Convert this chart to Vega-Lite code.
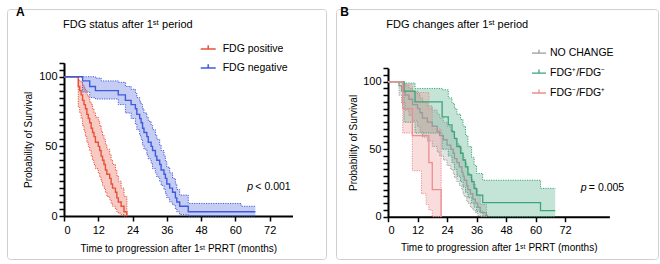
{
  "$schema": "https://vega.github.io/schema/vega-lite/v6.json",
  "background": "white",
  "padding": {"left": 6, "top": 5, "right": 5, "bottom": 9},
  "spacing": 8,
  "datasets": {
    "A": [
      {"g":"FDG positive","t":0,"s":100,"lo":100,"hi":100},
      {"g":"FDG positive","t":5,"s":93,"lo":78,"hi":98},
      {"g":"FDG positive","t":5.5,"s":90,"lo":74,"hi":97},
      {"g":"FDG positive","t":6,"s":87,"lo":70,"hi":96},
      {"g":"FDG positive","t":6.5,"s":83,"lo":65,"hi":94},
      {"g":"FDG positive","t":7,"s":80,"lo":61,"hi":92},
      {"g":"FDG positive","t":7.5,"s":77,"lo":57,"hi":90},
      {"g":"FDG positive","t":8,"s":73,"lo":53,"hi":87},
      {"g":"FDG positive","t":8.5,"s":70,"lo":50,"hi":85},
      {"g":"FDG positive","t":9,"s":67,"lo":47,"hi":82},
      {"g":"FDG positive","t":9.5,"s":63,"lo":43,"hi":80},
      {"g":"FDG positive","t":10,"s":60,"lo":40,"hi":77},
      {"g":"FDG positive","t":10.5,"s":57,"lo":37,"hi":74},
      {"g":"FDG positive","t":11,"s":53,"lo":34,"hi":71},
      {"g":"FDG positive","t":12,"s":50,"lo":31,"hi":68},
      {"g":"FDG positive","t":12.5,"s":47,"lo":28,"hi":65},
      {"g":"FDG positive","t":13,"s":43,"lo":25,"hi":61},
      {"g":"FDG positive","t":13.5,"s":40,"lo":22,"hi":58},
      {"g":"FDG positive","t":14,"s":37,"lo":20,"hi":55},
      {"g":"FDG positive","t":14.5,"s":33,"lo":17,"hi":51},
      {"g":"FDG positive","t":15,"s":30,"lo":14,"hi":48},
      {"g":"FDG positive","t":16,"s":27,"lo":12,"hi":44},
      {"g":"FDG positive","t":16.5,"s":23,"lo":9,"hi":40},
      {"g":"FDG positive","t":17,"s":20,"lo":7,"hi":37},
      {"g":"FDG positive","t":18,"s":17,"lo":5,"hi":33},
      {"g":"FDG positive","t":18.5,"s":13,"lo":3,"hi":29},
      {"g":"FDG positive","t":19,"s":10,"lo":2,"hi":25},
      {"g":"FDG positive","t":20,"s":7,"lo":1,"hi":20},
      {"g":"FDG positive","t":21,"s":3,"lo":0,"hi":14},
      {"g":"FDG positive","t":22,"s":0,"lo":0,"hi":0},
      {"g":"FDG negative","t":0,"s":100,"lo":100,"hi":100},
      {"g":"FDG negative","t":6.5,"s":97,"lo":89,"hi":100},
      {"g":"FDG negative","t":9,"s":93,"lo":85,"hi":100},
      {"g":"FDG negative","t":11,"s":90,"lo":84,"hi":99},
      {"g":"FDG negative","t":13,"s":90,"lo":84,"hi":97},
      {"g":"FDG negative","t":19,"s":87,"lo":80,"hi":96},
      {"g":"FDG negative","t":21.5,"s":83,"lo":74,"hi":93},
      {"g":"FDG negative","t":23.5,"s":80,"lo":70,"hi":91},
      {"g":"FDG negative","t":25,"s":77,"lo":66,"hi":88},
      {"g":"FDG negative","t":25.5,"s":73,"lo":62,"hi":85},
      {"g":"FDG negative","t":26.5,"s":70,"lo":58,"hi":82},
      {"g":"FDG negative","t":27,"s":67,"lo":55,"hi":80},
      {"g":"FDG negative","t":27.5,"s":63,"lo":51,"hi":77},
      {"g":"FDG negative","t":28,"s":60,"lo":48,"hi":74},
      {"g":"FDG negative","t":29,"s":57,"lo":44,"hi":71},
      {"g":"FDG negative","t":29.5,"s":53,"lo":41,"hi":68},
      {"g":"FDG negative","t":30.5,"s":50,"lo":38,"hi":65},
      {"g":"FDG negative","t":31,"s":47,"lo":34,"hi":62},
      {"g":"FDG negative","t":32,"s":43,"lo":31,"hi":58},
      {"g":"FDG negative","t":32.5,"s":40,"lo":28,"hi":55},
      {"g":"FDG negative","t":33.5,"s":37,"lo":25,"hi":51},
      {"g":"FDG negative","t":34,"s":33,"lo":22,"hi":47},
      {"g":"FDG negative","t":35,"s":30,"lo":19,"hi":43},
      {"g":"FDG negative","t":35.5,"s":27,"lo":16,"hi":39},
      {"g":"FDG negative","t":36,"s":23,"lo":13,"hi":35},
      {"g":"FDG negative","t":37,"s":20,"lo":10,"hi":31},
      {"g":"FDG negative","t":38,"s":17,"lo":8,"hi":27},
      {"g":"FDG negative","t":39,"s":13,"lo":5,"hi":23},
      {"g":"FDG negative","t":39.5,"s":10,"lo":3,"hi":19},
      {"g":"FDG negative","t":40.5,"s":7,"lo":1,"hi":15},
      {"g":"FDG negative","t":43.5,"s":3,"lo":0,"hi":9},
      {"g":"FDG negative","t":62,"s":3,"lo":0,"hi":7},
      {"g":"FDG negative","t":67,"s":3,"lo":0,"hi":7}
    ],
    "B": [
      {"g":"NO CHANGE","t":0,"s":100,"lo":100,"hi":100},
      {"g":"NO CHANGE","t":4.5,"s":97,"lo":90,"hi":100},
      {"g":"NO CHANGE","t":5.5,"s":93,"lo":84,"hi":99},
      {"g":"NO CHANGE","t":7,"s":90,"lo":79,"hi":97},
      {"g":"NO CHANGE","t":8.5,"s":87,"lo":75,"hi":95},
      {"g":"NO CHANGE","t":10,"s":83,"lo":71,"hi":93},
      {"g":"NO CHANGE","t":12,"s":80,"lo":67,"hi":91},
      {"g":"NO CHANGE","t":13,"s":77,"lo":63,"hi":88},
      {"g":"NO CHANGE","t":14,"s":73,"lo":59,"hi":85},
      {"g":"NO CHANGE","t":16,"s":70,"lo":56,"hi":82},
      {"g":"NO CHANGE","t":18,"s":67,"lo":52,"hi":79},
      {"g":"NO CHANGE","t":20,"s":63,"lo":48,"hi":76},
      {"g":"NO CHANGE","t":21,"s":60,"lo":45,"hi":73},
      {"g":"NO CHANGE","t":22.5,"s":57,"lo":42,"hi":70},
      {"g":"NO CHANGE","t":24,"s":53,"lo":38,"hi":67},
      {"g":"NO CHANGE","t":25.5,"s":50,"lo":35,"hi":64},
      {"g":"NO CHANGE","t":26.5,"s":47,"lo":32,"hi":61},
      {"g":"NO CHANGE","t":27,"s":43,"lo":29,"hi":57},
      {"g":"NO CHANGE","t":28,"s":40,"lo":26,"hi":54},
      {"g":"NO CHANGE","t":29,"s":37,"lo":23,"hi":51},
      {"g":"NO CHANGE","t":30,"s":33,"lo":20,"hi":47},
      {"g":"NO CHANGE","t":30.5,"s":30,"lo":17,"hi":44},
      {"g":"NO CHANGE","t":31,"s":27,"lo":15,"hi":40},
      {"g":"NO CHANGE","t":32,"s":23,"lo":12,"hi":36},
      {"g":"NO CHANGE","t":32.5,"s":20,"lo":10,"hi":32},
      {"g":"NO CHANGE","t":33.5,"s":17,"lo":7,"hi":28},
      {"g":"NO CHANGE","t":34.5,"s":13,"lo":5,"hi":24},
      {"g":"NO CHANGE","t":35.5,"s":10,"lo":3,"hi":20},
      {"g":"NO CHANGE","t":36.5,"s":7,"lo":1,"hi":16},
      {"g":"NO CHANGE","t":37.5,"s":3,"lo":0,"hi":9},
      {"g":"NO CHANGE","t":40,"s":0,"lo":0,"hi":0},
      {"g":"FDG⁺/FDG⁻","t":0,"s":100,"lo":100,"hi":100},
      {"g":"FDG⁺/FDG⁻","t":6.5,"s":93,"lo":70,"hi":99},
      {"g":"FDG⁺/FDG⁻","t":11,"s":85,"lo":62,"hi":95},
      {"g":"FDG⁺/FDG⁻","t":22,"s":74,"lo":50,"hi":94},
      {"g":"FDG⁺/FDG⁻","t":24.5,"s":68,"lo":45,"hi":88},
      {"g":"FDG⁺/FDG⁻","t":26,"s":63,"lo":40,"hi":84},
      {"g":"FDG⁺/FDG⁻","t":27,"s":58,"lo":35,"hi":80},
      {"g":"FDG⁺/FDG⁻","t":28,"s":52,"lo":30,"hi":76},
      {"g":"FDG⁺/FDG⁻","t":29.5,"s":47,"lo":26,"hi":72},
      {"g":"FDG⁺/FDG⁻","t":30.5,"s":42,"lo":22,"hi":67},
      {"g":"FDG⁺/FDG⁻","t":31.5,"s":37,"lo":18,"hi":60},
      {"g":"FDG⁺/FDG⁻","t":32.5,"s":31,"lo":14,"hi":52},
      {"g":"FDG⁺/FDG⁻","t":34,"s":26,"lo":10,"hi":44},
      {"g":"FDG⁺/FDG⁻","t":35,"s":21,"lo":7,"hi":38},
      {"g":"FDG⁺/FDG⁻","t":36,"s":16,"lo":4,"hi":32},
      {"g":"FDG⁺/FDG⁻","t":38.5,"s":10.5,"lo":1,"hi":27},
      {"g":"FDG⁺/FDG⁻","t":41,"s":10.5,"lo":0,"hi":27},
      {"g":"FDG⁺/FDG⁻","t":62,"s":4.5,"lo":0,"hi":21},
      {"g":"FDG⁺/FDG⁻","t":68,"s":4.5,"lo":0,"hi":21},
      {"g":"FDG⁻/FDG⁺","t":0,"s":100,"lo":100,"hi":100},
      {"g":"FDG⁻/FDG⁺","t":6,"s":80,"lo":62,"hi":98},
      {"g":"FDG⁻/FDG⁺","t":9.9,"s":60,"lo":34,"hi":92},
      {"g":"FDG⁻/FDG⁺","t":13.6,"s":60,"lo":17,"hi":92},
      {"g":"FDG⁻/FDG⁺","t":15.5,"s":60,"lo":9,"hi":92},
      {"g":"FDG⁻/FDG⁺","t":16.6,"s":40,"lo":5,"hi":80},
      {"g":"FDG⁻/FDG⁺","t":18,"s":20,"lo":0,"hi":65},
      {"g":"FDG⁻/FDG⁺","t":21.6,"s":0,"lo":0,"hi":0}
    ]
  },
  "hconcat": [
    {
      "width": 319,
      "height": 250,
      "title": {"text": "A", "anchor": "start", "frame": "group", "dx": 9, "offset": -19, "fontSize": 12, "fontWeight": "bold", "baseline": "alphabetic", "color": "#000"},
      "resolve": {"axis": {"x": "independent", "y": "independent"}, "legend": {"color": "independent"}},
      "layer": [
        {
          "data": {"name": "A"},
          "mark": {"type": "area", "interpolate": "step-after", "fillOpacity": 0.3},
          "encoding": {
            "x": {"field": "t", "type": "quantitative", "scale": {"domain": [0, 80], "range": [57, 285.5]},
              "axis": {"orient": "bottom", "values": [0, 12, 24, 36, 48, 60, 72], "offset": -43, "labelPadding": 3, "title": "Time to progression after 1ˢᵗ PRRT (months)", "titleX": 171.25, "titleY": 35.7, "titleBaseline": "alphabetic", "titleAlign": "center"}},
            "y": {"field": "lo", "type": "quantitative", "scale": {"domain": [0, 110], "range": [207, 53.8]},
              "axis": {"orient": "left", "values": [0,5,10,15,20,25,30,35,40,45,50,55,60,65,70,75,80,85,90,95,100,105,110], "offset": -57, "labelExpr": "datum.value % 50 === 0 ? datum.label : ''", "labelOverlap": false, "title": "Probability of Survival", "titleX": -32.5, "titleY": 130.4, "titleAngle": 270, "titleBaseline": "alphabetic", "titleAlign": "center"}},
            "y2": {"field": "hi"},
            "color": {"field": "g", "type": "nominal", "scale": {"domain": ["FDG positive", "FDG negative"], "range": ["#E8503A", "#3F5BD9"]}, "legend": null}
          }
        },
        {
          "data": {"name": "A"},
          "mark": {"type": "line", "interpolate": "step-after", "strokeWidth": 1, "strokeDash": [1.2, 1.2]},
          "encoding": {
            "x": {"field": "t", "type": "quantitative", "axis": null},
            "y": {"field": "lo", "type": "quantitative", "axis": null},
            "color": {"field": "g", "type": "nominal", "legend": null}
          }
        },
        {
          "data": {"name": "A"},
          "mark": {"type": "line", "interpolate": "step-after", "strokeWidth": 1, "strokeDash": [1.2, 1.2]},
          "encoding": {
            "x": {"field": "t", "type": "quantitative", "axis": null},
            "y": {"field": "hi", "type": "quantitative", "axis": null},
            "color": {"field": "g", "type": "nominal", "legend": null}
          }
        },
        {
          "data": {"name": "A"},
          "mark": {"type": "line", "interpolate": "step-after", "strokeWidth": 1.4},
          "encoding": {
            "x": {"field": "t", "type": "quantitative", "axis": null},
            "y": {"field": "s", "type": "quantitative", "axis": null},
            "color": {"field": "g", "type": "nominal",
              "legend": {"orient": "none", "legendX": 192.7, "legendY": 31.5, "title": null, "symbolType": "M-1,0H1M0,0V-0.5", "symbolSize": 225, "symbolStrokeWidth": 1.5, "symbolFillColor": "transparent", "labelFontSize": 10.5, "labelColor": "#000", "labelOffset": 6, "rowPadding": 5, "padding": 0}}
          }
        },
        {
          "data": {"values": [{}]},
          "mark": {"type": "text", "text": "FDG status after 1ˢᵗ period", "align": "left", "baseline": "alphabetic", "fontSize": 11, "dx": -1, "color": "#000"},
          "encoding": {"x": {"datum": 0, "type": "quantitative", "axis": null}, "y": {"datum": 135, "type": "quantitative", "axis": null}}
        },
        {
          "data": {"values": [{}]},
          "mark": {"type": "text", "text": "p", "fontStyle": "italic", "align": "left", "baseline": "alphabetic", "fontSize": 10.5, "color": "#000"},
          "encoding": {"x": {"datum": 64.2, "type": "quantitative", "axis": null}, "y": {"datum": 18.6, "type": "quantitative", "axis": null}}
        },
        {
          "data": {"values": [{}]},
          "mark": {"type": "text", "text": "< 0.001", "align": "left", "baseline": "alphabetic", "fontSize": 10.5, "dx": 8, "color": "#000"},
          "encoding": {"x": {"datum": 64.2, "type": "quantitative", "axis": null}, "y": {"datum": 18.6, "type": "quantitative", "axis": null}}
        }
      ]
    },
    {
      "width": 322,
      "height": 250,
      "title": {"text": "B", "anchor": "start", "frame": "group", "dx": 4.3, "offset": -19, "fontSize": 12, "fontWeight": "bold", "baseline": "alphabetic", "color": "#000"},
      "resolve": {"axis": {"x": "independent", "y": "independent"}, "legend": {"color": "independent"}},
      "layer": [
        {
          "data": {"name": "B"},
          "mark": {"type": "area", "interpolate": "step-after", "fillOpacity": 0.3},
          "encoding": {
            "x": {"field": "t", "type": "quantitative", "scale": {"domain": [0, 82], "range": [52, 273.4]},
              "axis": {"orient": "bottom", "values": [0, 12, 24, 36, 48, 60, 72], "offset": -42.3, "labelPadding": 3, "title": "Time to progression after 1ˢᵗ PRRT (months)", "titleX": 162.7, "titleY": 33.6, "titleBaseline": "alphabetic", "titleAlign": "center"}},
            "y": {"field": "lo", "type": "quantitative", "scale": {"domain": [0, 110], "range": [207.7, 59.2]},
              "axis": {"orient": "left", "values": [0,5,10,15,20,25,30,35,40,45,50,55,60,65,70,75,80,85,90,95,100,105,110], "offset": -52, "labelExpr": "datum.value % 50 === 0 ? datum.label : ''", "labelOverlap": false, "title": "Probability of Survival", "titleX": -31.4, "titleY": 133.45, "titleAngle": 270, "titleBaseline": "alphabetic", "titleAlign": "center"}},
            "y2": {"field": "hi"},
            "color": {"field": "g", "type": "nominal", "scale": {"domain": ["NO CHANGE", "FDG⁺/FDG⁻", "FDG⁻/FDG⁺"], "range": ["#9A9A9A", "#3AA67A", "#EC8E90"]}, "legend": null}
          }
        },
        {
          "data": {"name": "B"},
          "mark": {"type": "line", "interpolate": "step-after", "strokeWidth": 1, "strokeDash": [1.2, 1.2]},
          "encoding": {
            "x": {"field": "t", "type": "quantitative", "axis": null},
            "y": {"field": "lo", "type": "quantitative", "axis": null},
            "color": {"field": "g", "type": "nominal", "legend": null}
          }
        },
        {
          "data": {"name": "B"},
          "mark": {"type": "line", "interpolate": "step-after", "strokeWidth": 1, "strokeDash": [1.2, 1.2]},
          "encoding": {
            "x": {"field": "t", "type": "quantitative", "axis": null},
            "y": {"field": "hi", "type": "quantitative", "axis": null},
            "color": {"field": "g", "type": "nominal", "legend": null}
          }
        },
        {
          "data": {"name": "B"},
          "mark": {"type": "line", "interpolate": "step-after", "strokeWidth": 1.3},
          "encoding": {
            "x": {"field": "t", "type": "quantitative", "axis": null},
            "y": {"field": "s", "type": "quantitative", "axis": null},
            "color": {"field": "g", "type": "nominal",
              "legend": {"orient": "none", "legendX": 195, "legendY": 36.2, "title": null, "symbolType": "M-1,0H1M0,0V-0.5", "symbolSize": 196, "symbolStrokeWidth": 1.3, "symbolFillColor": "transparent", "labelFontSize": 10.5, "labelColor": "#000", "labelOffset": 3, "rowPadding": 5.9, "padding": 0}}
          }
        },
        {
          "data": {"values": [{}]},
          "mark": {"type": "text", "text": "FDG changes after 1ˢᵗ period", "align": "left", "baseline": "alphabetic", "fontSize": 11, "dx": -1.7, "color": "#000"},
          "encoding": {"x": {"datum": 0, "type": "quantitative", "axis": null}, "y": {"datum": 139.8, "type": "quantitative", "axis": null}}
        },
        {
          "data": {"values": [{}]},
          "mark": {"type": "text", "text": "p", "fontStyle": "italic", "align": "left", "baseline": "alphabetic", "fontSize": 10.5, "color": "#000"},
          "encoding": {"x": {"datum": 78.4, "type": "quantitative", "axis": null}, "y": {"datum": 19.1, "type": "quantitative", "axis": null}}
        },
        {
          "data": {"values": [{}]},
          "mark": {"type": "text", "text": "= 0.005", "align": "left", "baseline": "alphabetic", "fontSize": 10.5, "dx": 8, "color": "#000"},
          "encoding": {"x": {"datum": 78.4, "type": "quantitative", "axis": null}, "y": {"datum": 19.1, "type": "quantitative", "axis": null}}
        }
      ]
    }
  ],
  "resolve": {"scale": {"x": "independent", "y": "independent", "color": "independent"}, "legend": {"color": "independent"}, "axis": {"x": "independent", "y": "independent"}},
  "config": {
    "font": "Liberation Sans",
    "view": {"stroke": "#cfcfcf", "strokeWidth": 1, "cornerRadius": 3},
    "axis": {"grid": false, "domainColor": "#000", "domainWidth": 2, "tickColor": "#000", "tickWidth": 1.5, "tickSize": 5, "labelFontSize": 11, "labelColor": "#000", "labelPadding": 2, "labelFont": "Liberation Sans", "titleFont": "Liberation Sans", "titleFontSize": 10, "titleFontWeight": "normal", "titleColor": "#000"},
    "legend": {"labelFont": "Liberation Sans"},
    "text": {"font": "Liberation Sans"}
  }
}
